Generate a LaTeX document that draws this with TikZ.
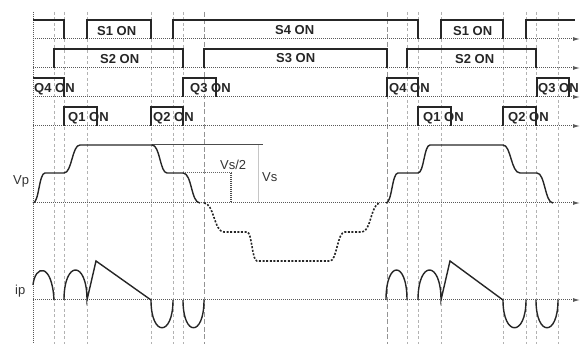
\documentclass[tikz,border=0pt]{standalone}
\usepackage{fontspec}
\setmainfont{Liberation Sans}
\usetikzlibrary{arrows.meta}
\begin{document}
\begin{tikzpicture}[x=1pt,y=-1pt,
  wave/.style={line width=1.4pt, black!85, line join=miter},
  curve/.style={line width=1.4pt, black!85},
  base/.style={line width=1pt, black!65, dash pattern=on 1pt off 1pt, -{Latex[length=7pt,width=4pt]}},
  vline/.style={line width=0.9pt, gray!60, dash pattern=on 3pt off 2.5pt},
  vdark/.style={line width=1pt, gray!85, dash pattern=on 5pt off 2.5pt},
  onlbl/.style={font=\fontsize{13}{15}\selectfont\bfseries, anchor=base west, inner sep=0pt, text=black!85},
  axlbl/.style={font=\fontsize{13}{15}\selectfont, anchor=base west, inner sep=0pt, text=black!80}
]
\useasboundingbox (0,0) rectangle (587,344);
% vertical time markers
\foreach \x in {54,64,87,151,173,183,407,418,441,503,526,536,558}
  \draw[vline] (\x,12) -- (\x,344);
\foreach \x in {204,387}
  \draw[vdark] (\x,12) -- (\x,344);
% left axis
\draw[line width=1pt, black!65, dash pattern=on 1pt off 1pt] (33,12) -- (33,344);
% baselines
\foreach \y in {39,68,97,126,203,300}
  \draw[base] (33,\y) -- (580,\y);
% row 1: S1 / S4
\draw[wave] (33,20) -- (64,20) -- (64,39);
\draw[wave] (87,39) -- (87,20) -- (151,20) -- (151,39);
\draw[wave] (173,39) -- (173,20) -- (418,20) -- (418,39);
\draw[wave] (441,39) -- (441,20) -- (503,20) -- (503,39);
\draw[wave] (526,39) -- (526,20) -- (575,20);
% row 2: S2 / S3
\draw[wave] (54,68) -- (54,49) -- (183,49) -- (183,68);
\draw[wave] (204,68) -- (204,49) -- (387,49) -- (387,68);
\draw[wave] (407,68) -- (407,49) -- (536,49) -- (536,68);
% row 3: Q4 / Q3
\draw[wave] (33,78) -- (64,78) -- (64,97);
\draw[wave] (183,97) -- (183,78) -- (216,78) -- (216,97);
\draw[wave] (387,97) -- (387,78) -- (418,78) -- (418,97);
\draw[wave] (537,97) -- (537,78) -- (569,78) -- (569,97);
% row 4: Q1 / Q2
\draw[wave] (64,126) -- (64,107) -- (97,107) -- (97,126);
\draw[wave] (151,126) -- (151,107) -- (183,107) -- (183,126);
\draw[wave] (418,126) -- (418,107) -- (451,107) -- (451,126);
\draw[wave] (503,126) -- (503,107) -- (536,107) -- (536,126);
% labels
\node[onlbl] (s1a) at (97,36) {S1 ON};
\node[onlbl] (s4) at (275,35) {S4 ON};
\node[onlbl] (s1b) at (453,36) {S1 ON};
\node[onlbl] (s2a) at (100,64) {S2 ON};
\node[onlbl] (s3) at (276,63) {S3 ON};
\node[onlbl] (s2b) at (455,64) {S2 ON};
\node[onlbl] (q4a) at (34,93) {Q4 ON};
\node[onlbl] (q3a) at (190,93) {Q3 ON};
\node[onlbl] (q4b) at (389,93) {Q4 ON};
\node[onlbl] (q3b) at (538,93) {Q3 ON};
\node[onlbl] (q1a) at (68,122) {Q1 ON};
\node[onlbl] (q2a) at (153,122) {Q2 ON};
\node[onlbl] (q1b) at (423,122) {Q1 ON};
\node[onlbl] (q2b) at (508,122) {Q2 ON};
% Vp waveform
\draw[line width=0.6pt, gray!45] (258,145) -- (258,203);
\draw[line width=1pt, black!70] (152,145) -- (263,145);
\draw[line width=1pt, black!60, dash pattern=on 1pt off 1pt] (183,173) -- (232,173);
\draw[line width=1.2pt, black!70, dash pattern=on 1pt off 1pt] (231,173) -- (231,203);
\draw[curve] (33,203) .. controls (39,203) and (39,173) .. (45,173) -- (64,173)
  .. controls (72,173) and (72,145) .. (80,145) -- (152,145)
  .. controls (160,145) and (160,173) .. (167,173) -- (183,173)
  .. controls (192,173) and (191,203) .. (200,203);
\draw[line width=1.6pt, black!85, dash pattern=on 2pt off 1.6pt]
  (204,203) .. controls (214,203) and (214,232) .. (224,232) -- (247,232)
  .. controls (252,232) and (252,261) .. (257,261) -- (330,261)
  .. controls (337,261) and (337,232) .. (345,232) -- (362,232)
  .. controls (371,232) and (371,203) .. (380,203);
\draw[curve] (386,203) .. controls (392,203) and (392,173) .. (398,173) -- (418,173)
  .. controls (424,173) and (424,145) .. (430,145) -- (503,145)
  .. controls (511,145) and (511,173) .. (520,173) -- (537,173)
  .. controls (545,173) and (545,203) .. (553,203);
\node[axlbl] (vp) at (13,185) {Vp};
\node[axlbl] (vs2) at (220,170) {Vs/2};
\node[axlbl] (vs) at (262,182) {Vs};
% ip waveform
\draw[curve] (33,285) .. controls (35,265) and (52,262) .. (54,300);
\draw[curve] (64,300) .. controls (64,260) and (87,260) .. (87,300) -- (96,261) -- (151,300)
  .. controls (151,337) and (173,337) .. (173,300);
\draw[curve] (183,300) .. controls (183,337) and (204,337) .. (204,300);
\draw[curve] (386,300) .. controls (386,260) and (407,260) .. (407,300);
\draw[curve] (418,300) .. controls (418,260) and (441,260) .. (441,300) -- (450,261) -- (503,300)
  .. controls (503,337) and (526,337) .. (526,300);
\draw[curve] (536,300) .. controls (536,337) and (558,337) .. (558,300);
\node[axlbl] (ip) at (15,295) {ip};
\end{tikzpicture}
\end{document}
